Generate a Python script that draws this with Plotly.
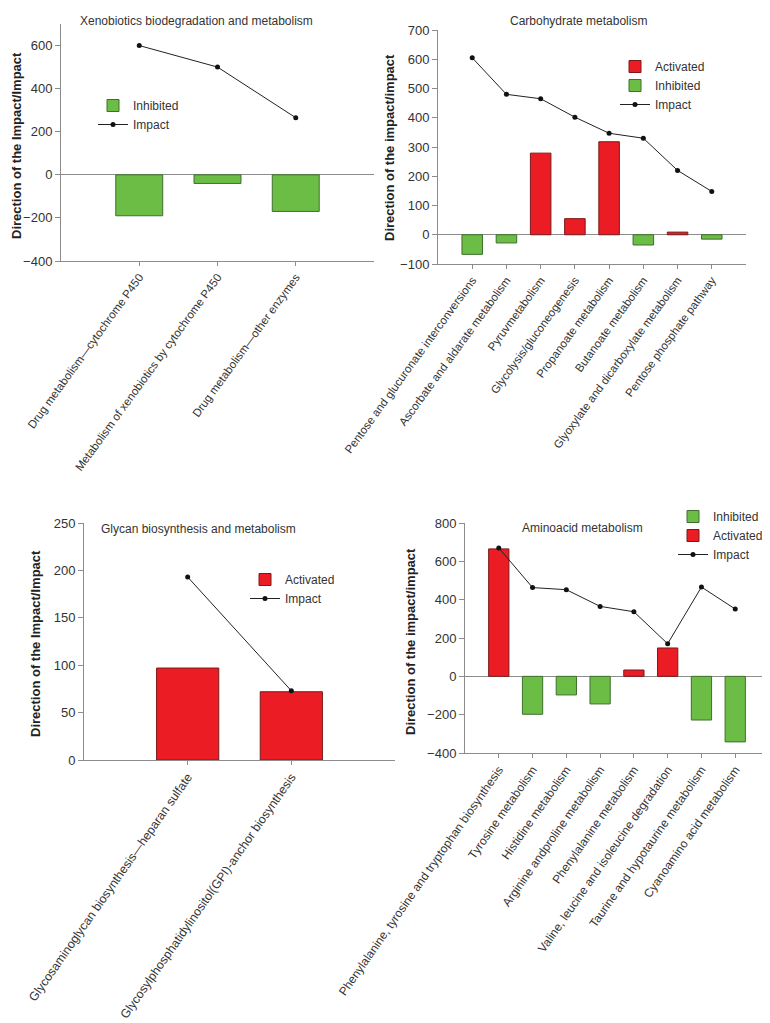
import plotly.graph_objects as go

# Données
xeno_labels = ["Drug metabolism\u2014cytochrome P450",
               "Metabolism of xenobiotics by cytochrome P450",
               "Drug metabolism\u2014other enzymes"]
xeno_direction = [-190, -40, -170]
xeno_impact = [600, 500, 265]

carbo_labels = ["Pentose and glucuronate interconversions",
                "Ascorbate and aldarate metabolism",
                "Pyruvmetabolism",
                "Glycolysis/gluconeogenesis",
                "Propanoate metabolism",
                "Butanoate metabolism",
                "Glyoxylate and dicarboxylate metabolism",
                "Pentose phosphate pathway"]
carbo_direction = [-67, -28, 279, 55, 318, -35, 9, -15]
carbo_impact = [605, 480, 465, 402, 347, 330, 220, 148]

glycan_labels = ["Glycosaminoglycan biosynthesis\u2014heparan sulfate",
                 "Glycosylphosphatidylinositol(GPI)-anchor biosynthesis"]
glycan_direction = [97, 72]
glycan_impact = [193, 73]

amino_labels = ["Phenylalanine, tyrosine and tryptophan biosynthesis",
                "Tyrosine metabolism",
                "Histidine metabolism",
                "Arginine andproline metabolism",
                "Phenylalanine metabolism",
                "Valine, leucine and isoleucine degradation",
                "Taurine and hypotaurine metabolism",
                "Cyanoamino acid metabolism"]
amino_direction = [665, -198, -97, -144, 33, 148, -228, -342]
amino_impact = [670, 463, 452, 365, 337, 170, 466, 351]

# Couleurs
RED = "#ec1c24"
GREEN = "#6cbd45"
AXIS = "#8c8c8c"
TEXT = "#333333"
FONT = "Liberation Sans, Arial, sans-serif"
W, H = 770, 1023


def dom_x(left, right):
    return [left / W, right / W]


def dom_y(top, bottom):
    return [1 - bottom / H, 1 - top / H]


fig = go.Figure()


def add_panel(n, labels, direction, impact, order, yrange, dtick,
              xdom, ydom, title, title_pos, ytitle, ytitle_pos, legend_pos,
              tick_size, tick_angle):
    xa = "x" if n == 1 else f"x{n}"
    ya = "y" if n == 1 else f"y{n}"
    lg = "legend" if n == 1 else f"legend{n}"
    activated = [v if v > 0 else None for v in direction]
    inhibited = [v if v < 0 else None for v in direction]
    for name in order:
        if name == "Impact":
            fig.add_trace(go.Scatter(
                x=labels, y=impact, name="Impact", mode="lines+markers",
                line=dict(color="#222222", width=1),
                marker=dict(color="#111111", size=5),
                xaxis=xa, yaxis=ya, legend=lg))
        else:
            vals = activated if name == "Activated" else inhibited
            col = RED if name == "Activated" else GREEN
            edge = "#7a1a1a" if name == "Activated" else "#3f6f2e"
            fig.add_trace(go.Bar(
                x=labels, y=vals, name=name, width=0.6,
                marker=dict(color=col, line=dict(color=edge, width=1)),
                xaxis=xa, yaxis=ya, legend=lg))

    axis_x = dict(domain=dom_x(*xdom), anchor=ya, type="category",
                  range=[-1, len(labels)], showline=True, linecolor=AXIS,
                  linewidth=1, ticks="outside", ticklen=4, tickcolor=AXIS,
                  tickangle=tick_angle,
                  tickfont=dict(size=tick_size, color=TEXT),
                  showgrid=False, zeroline=False, automargin=False)
    axis_y = dict(domain=dom_y(*ydom), anchor=xa, range=yrange,
                  dtick=dtick, showline=True, linecolor=AXIS, linewidth=1,
                  ticks="outside", ticklen=5, tickcolor=AXIS,
                  tickfont=dict(size=13, color=TEXT), showgrid=False,
                  zeroline=True, zerolinecolor=AXIS, zerolinewidth=1,
                  automargin=False)
    fig.update_layout({("xaxis" if n == 1 else f"xaxis{n}"): axis_x,
                       ("yaxis" if n == 1 else f"yaxis{n}"): axis_y})
    fig.update_layout({lg: dict(x=legend_pos[0] / W, y=1 - legend_pos[1] / H,
                                xanchor="left", yanchor="top",
                                bgcolor="rgba(0,0,0,0)",
                                font=dict(size=12, color=TEXT),
                                traceorder="normal", tracegroupgap=0)})

    fig.add_annotation(text=title, x=title_pos[0] / W, y=1 - title_pos[1] / H,
                       xref="paper", yref="paper", showarrow=False,
                       xanchor="center", yanchor="middle",
                       font=dict(size=12, color=TEXT))
    fig.add_annotation(text="<b>" + ytitle + "</b>", textangle=-90,
                       x=ytitle_pos[0] / W, y=1 - ytitle_pos[1] / H,
                       xref="paper", yref="paper", showarrow=False,
                       xanchor="center", yanchor="middle",
                       font=dict(size=13, color="#222222"))


add_panel(1, xeno_labels, xeno_direction, xeno_impact,
          ["Inhibited", "Impact"], [-400, 700], 200,
          (53, 366), (16, 253),
          "Xenobiotics biodegradation and metabolism", (188, 13),
          "Direction of the Impact/Impact", (8, 138), (85, 83), 11.5, -54)

add_panel(2, carbo_labels, carbo_direction, carbo_impact,
          ["Activated", "Inhibited", "Impact"], [-100, 700], 100,
          (430, 738), (22, 256),
          "Carbohydrate metabolism", (570, 13),
          "Direction of the impact/impact", (381, 140), (607, 44), 11.5, -54)

add_panel(3, glycan_labels, glycan_direction, glycan_impact,
          ["Activated", "Impact"], [0, 250], 50,
          (76, 387), (515, 752),
          "Glycan biosynthesis and metabolism", (190, 521),
          "Direction of the Impact/Impact", (27, 636), (237, 557), 12.3, -55)

add_panel(4, amino_labels, amino_direction, amino_impact,
          ["Inhibited", "Activated", "Impact"], [-400, 800], 200,
          (457, 761), (515, 745),
          "Aminoacid metabolism", (574, 520),
          "Direction of the impact/impact", (402, 633), (665, 494), 12, -55)

fig.update_layout(
    width=W, height=H,
    margin=dict(l=0, r=0, t=0, b=0, autoexpand=False),
    plot_bgcolor="white", paper_bgcolor="white",
    barmode="overlay",
    font=dict(family=FONT, color=TEXT),
)

fig.write_html("out.html")
